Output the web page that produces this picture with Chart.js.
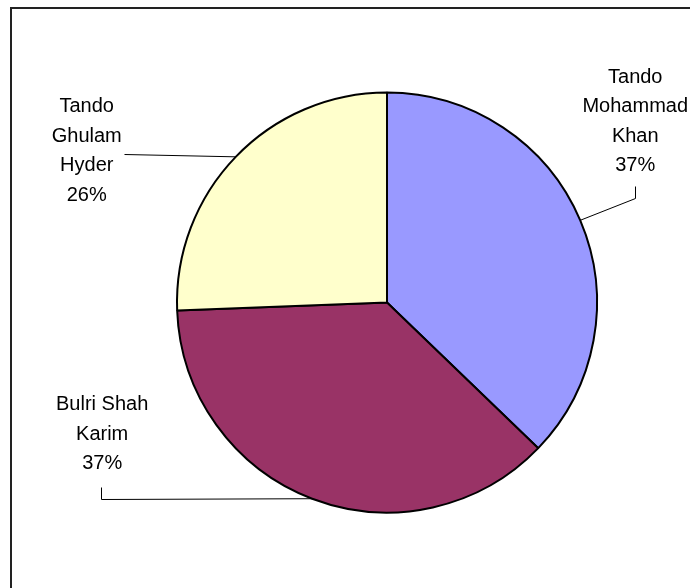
<!DOCTYPE html>
<html>
<head>
<meta charset="utf-8">
<script src="https://cdn.jsdelivr.net/npm/chart.js@4/dist/chart.umd.min.js"></script>
<style>
    html, body { margin: 0; padding: 0; background: #fff; }
    #wrap { position: relative; width: 690px; height: 588px; overflow: hidden; }
    #frame {
        position: absolute; left: 10px; top: 7px; width: 800px; height: 700px;
        border-left: 2px solid #222; border-top: 2px solid #222;
    }
    #pie { position: absolute; left: 0; top: 0; }
</style>
</head>
<body>
<div id="wrap">
    <div id="frame"></div>
    <canvas id="pie" width="690" height="588"></canvas>
</div>
<script>
// Chart data
const categories = [
    ['Tando', 'Mohammad', 'Khan'],
    ['Bulri Shah', 'Karim'],
    ['Tando', 'Ghulam', 'Hyder']
];
const shares = [37.2, 37.2, 25.6];
const sliceColors = ['#9999FF', '#993366', '#FFFFCC'];

// Label placement, relative to the point where the leader meets the slice edge
// text: [centre x offset, first line y offset], leader: elbow points
const labelLayout = [
    { text: [55, -143], leader: [[55, -22], [55, -34]] },
    { text: [-210, -94], leader: [[-211, 0], [-211, -12]] },
    { text: [-149, -50], leader: [[-112, -3]] }
];

const lineHeight = 29.5;

// Draws labels with leader lines outside the pie
const outsideLabels = {
    id: 'outsideLabels',
    afterDatasetsDraw(chart) {
        const ctx = chart.ctx;
        const meta = chart.getDatasetMeta(0);
        const data = chart.data.datasets[0].data;
        const total = data.reduce((a, b) => a + b, 0);

        ctx.save();
        ctx.strokeStyle = '#000';
        ctx.lineWidth = 1;
        ctx.fillStyle = '#000';
        ctx.font = '20px "Liberation Sans", Arial, sans-serif';
        ctx.textAlign = 'center';
        ctx.textBaseline = 'middle';

        meta.data.forEach((arc, i) => {
            const p = arc.getProps(['x', 'y', 'startAngle', 'endAngle', 'outerRadius'], true);
            const mid = (p.startAngle + p.endAngle) / 2;
            const ex = p.x + Math.cos(mid) * p.outerRadius;
            const ey = p.y + Math.sin(mid) * p.outerRadius;
            const lay = labelLayout[i];

            // leader line
            ctx.beginPath();
            ctx.moveTo(ex, ey);
            lay.leader.forEach(pt => {
                ctx.lineTo(Math.round(ex + pt[0]) + 0.5, Math.round(ey + pt[1]) + 0.5);
            });
            ctx.stroke();

            // label text
            const lines = chart.data.labels[i].concat([Math.round(data[i] / total * 100) + '%']);
            lines.forEach((line, k) => {
                ctx.fillText(line, ex + lay.text[0], ey + lay.text[1] + k * lineHeight);
            });
        });
        ctx.restore();
    }
};

new Chart(document.getElementById('pie').getContext('2d'), {
    type: 'pie',
    data: {
        labels: categories,
        datasets: [{
            data: shares,
            backgroundColor: sliceColors,
            borderColor: '#000',
            borderWidth: 2
        }]
    },
    options: {
        responsive: false,
        animation: false,
        layout: {
            padding: { top: 91, bottom: 74, left: 176, right: 92 }
        },
        plugins: {
            legend: { display: false },
            tooltip: { enabled: false }
        }
    },
    plugins: [outsideLabels]
});
</script>
</body>
</html>
